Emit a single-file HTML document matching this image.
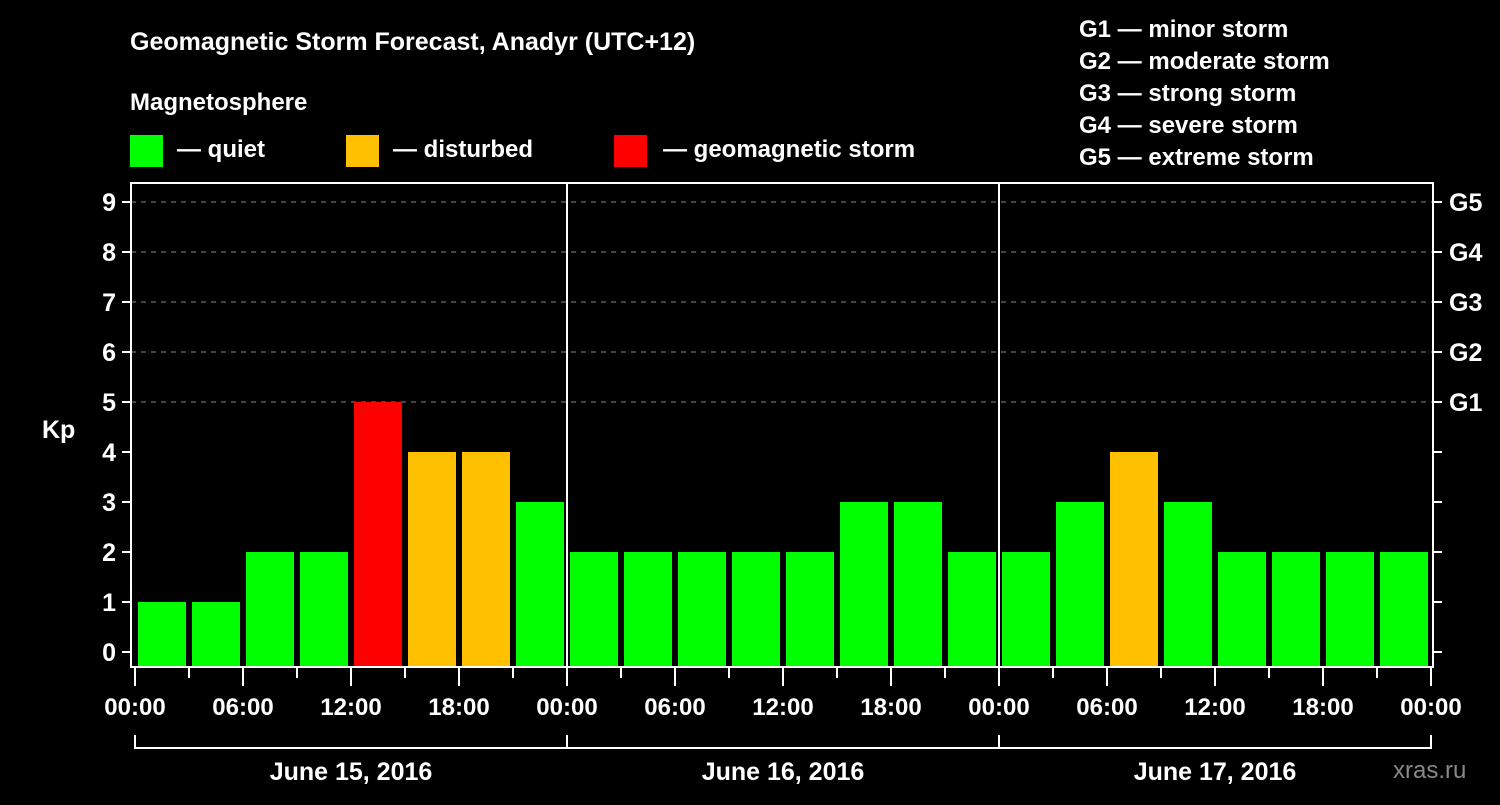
<!DOCTYPE html>
<html><head><meta charset="utf-8"><style>
body{margin:0;background:#000;width:1500px;height:800px;overflow:hidden}
svg text{font-family:"Liberation Sans",Arial,sans-serif;font-weight:bold;fill:#fff}
</style></head><body>
<svg id="c" width="1500" height="800">
<text x="130" y="50" font-size="25">Geomagnetic Storm Forecast, Anadyr (UTC+12)</text>
<text x="130" y="110" font-size="24">Magnetosphere</text>
<g><rect x="130" y="135" width="33" height="32" fill="#00ff00"/><text x="177" y="157" font-size="24">— quiet</text></g>
<g><rect x="346" y="135" width="33" height="32" fill="#ffc000"/><text x="393" y="157" font-size="24">— disturbed</text></g>
<g><rect x="614" y="135" width="33" height="32" fill="#ff0000"/><text x="663" y="157" font-size="24">— geomagnetic storm</text></g>
<g font-size="24">
<text x="1079" y="37">G1 — minor storm</text>
<text x="1079" y="69">G2 — moderate storm</text>
<text x="1079" y="101">G3 — strong storm</text>
<text x="1079" y="133">G4 — severe storm</text>
<text x="1079" y="165">G5 — extreme storm</text>
</g>
<text x="42" y="438" font-size="25">Kp</text>
<text x="1393" y="778" font-size="24" fill="#888" style="fill:#888;font-weight:normal">xras.ru</text>
<g id="plot"></g>
</svg>
<script>
const kpValues=[1,1,2,2,5,4,4,3, 2,2,2,2,2,3,3,2, 2,3,4,3,2,2,2,2];
const dayLabels=["June 15, 2016","June 16, 2016","June 17, 2016"];
const hourLabels=["00:00","06:00","12:00","18:00"];
const gLabels=["G1","G2","G3","G4","G5"];
const yTicks=[0,1,2,3,4,5,6,7,8,9];

const NS="http://www.w3.org/2000/svg";
const g=document.getElementById('plot');
const L=131,R=1433,T=183,B=667,X0=135,dayW=432;
const y=v=>652-v*50;
const x=h=>X0+h*(dayW/24);
function el(t,a,p){const e=document.createElementNS(NS,t);for(const k in a)e.setAttribute(k,a[k]);(p||g).appendChild(e);return e;}
// grid
[5,6,7,8,9].forEach(v=>{const e=el('line',{x1:L,x2:R,y1:y(v),y2:y(v),stroke:'#888','stroke-dasharray':'5,5','stroke-width':1});

});
// bars
kpValues.forEach((v,i)=>{const x1=x(i*3)+3,x2=x(i*3+3)-3;
const c=v>=5?'#ff0000':(v>=4?'#ffc000':'#00ff00');
const r=el('rect',{x:x1,y:y(v),width:x2-x1,height:B-y(v),fill:c});

});
// day separators
for(let d=1;d<dayLabels.length;d++){const e=el('line',{x1:x(d*24),x2:x(d*24),y1:T,y2:B,stroke:'#fff','stroke-width':2});

}
// frame
const f=el('rect',{x:L,y:T,width:R-L,height:B-T,fill:'none',stroke:'#fff','stroke-width':2});


// y ticks
yTicks.forEach(v=>{el('line',{x1:122,x2:L,y1:y(v),y2:y(v),stroke:'#fff','stroke-width':2});
el('line',{x1:R,x2:1442,y1:y(v),y2:y(v),stroke:'#fff','stroke-width':2});
const t=el('text',{x:116,y:y(v)+9,'font-size':25,'text-anchor':'end'});t.textContent=v;

});
gLabels.forEach((s,i)=>{const t=el('text',{x:1449,y:y(5+i)+9,'font-size':25});t.textContent=s;

});
// x ticks
const nd=dayLabels.length;
for(let h=0;h<=nd*24;h+=3){const major=h%6===0;
el('line',{x1:x(h),x2:x(h),y1:B,y2:major?686:678,stroke:'#fff','stroke-width':2});
if(major){const t=el('text',{x:x(h),y:715,'font-size':24,'text-anchor':'middle'});t.textContent=hourLabels[(h%24)/6];

}}
// date brackets
el('line',{x1:x(0),x2:x(nd*24),y1:748,y2:748,stroke:'#fff','stroke-width':2});
for(let d=0;d<=nd;d++)el('line',{x1:x(d*24),x2:x(d*24),y1:735,y2:749,stroke:'#fff','stroke-width':2});
dayLabels.forEach((s,d)=>{const t=el('text',{x:x(d*24+12),y:780,'font-size':25,'text-anchor':'middle'});t.textContent=s;

});
</script>
</body></html>
